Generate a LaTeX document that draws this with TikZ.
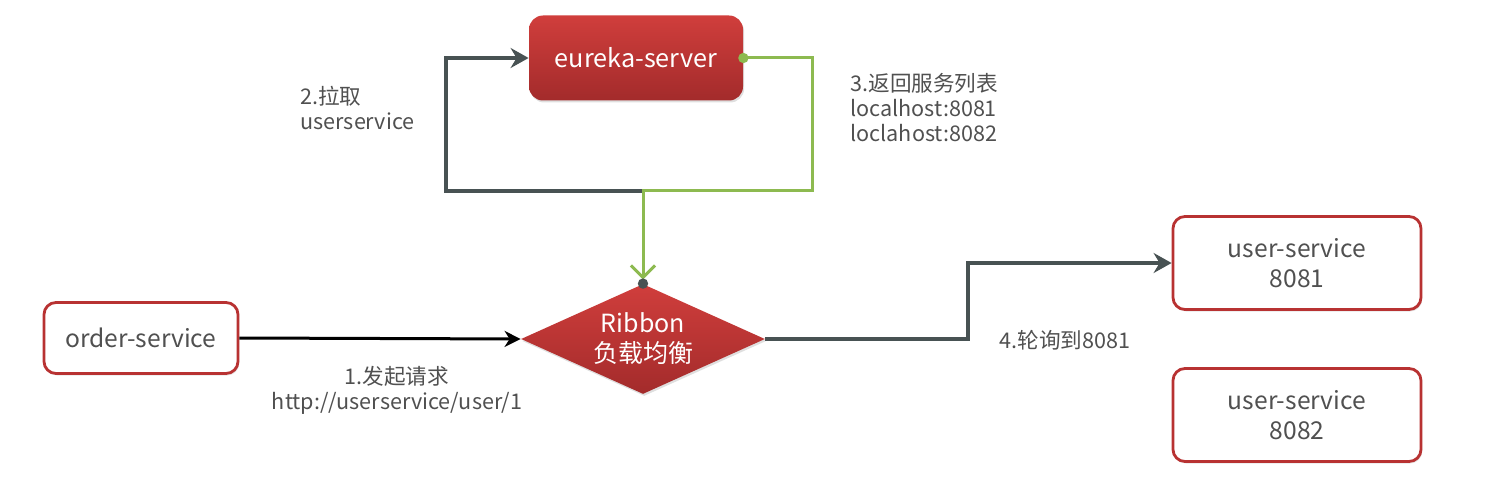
\documentclass[tikz,border=0pt]{standalone}
\usepackage{fontspec}
\setmainfont{Noto Sans CJK SC}
\usetikzlibrary{shapes.geometric,arrows.meta,shadows,calc}
\definecolor{redtop}{HTML}{D03E3C}
\definecolor{redbot}{HTML}{A32B2B}
\definecolor{redborder}{HTML}{B83232}
\definecolor{txtgray}{HTML}{505050}
\definecolor{linegray}{HTML}{485253}
\definecolor{linegreen}{HTML}{8DBA50}
\begin{document}
\begin{tikzpicture}[x=0.5pt,y=-0.5pt,
  redbox/.style={rectangle,rounded corners=7pt,top color=redtop,bottom color=redbot,draw=none,
    text=white,font=\fontsize{12.6}{15}\selectfont,inner sep=0pt,
    drop shadow={opacity=0.25,shadow xshift=0.6pt,shadow yshift=-1pt}},
  whitebox/.style={rectangle,rounded corners=6pt,fill=white,draw=redborder,line width=1.4pt,
    text=txtgray,font=\fontsize{12.3}{15}\selectfont,align=center,inner sep=0pt,
    drop shadow={opacity=0.2,shadow xshift=0.6pt,shadow yshift=-1pt}},
  reddiamond/.style={diamond,aspect=2.2,top color=redtop,bottom color=redbot,draw=none,text=white,
    font=\fontsize{12.5}{15}\selectfont,align=center,inner sep=0pt,
    minimum width=122pt,minimum height=55pt,
    drop shadow={opacity=0.25,shadow xshift=0.6pt,shadow yshift=-1pt}},
  lbl/.style={text=txtgray,font=\fontsize{10.8}{12.5}\selectfont,inner sep=0pt},
  grayline/.style={draw=linegray,line width=1.8pt},
  greenline/.style={draw=linegreen,line width=1.5pt},
  blackline/.style={draw=black,line width=1.5pt}
]
\useasboundingbox (0,0) rectangle (1490,492);

\node[redbox,minimum width=107pt,minimum height=42.5pt] (eureka) at (636,58) {eureka-server};
\node[reddiamond] (ribbon) at (643,339) {Ribbon\\负载均衡};
\node[whitebox,minimum width=97pt,minimum height=35.5pt] (order) at (141,338) {order-service};
\node[whitebox,minimum width=124pt,minimum height=46.5pt] (us1) at (1297,263) {user-service\\8081};
\node[whitebox,minimum width=124pt,minimum height=46.5pt] (us2) at (1297,415) {user-service\\8082};

\coordinate (j) at (643,191);
\coordinate (l) at (446,191);
\coordinate (r) at (812,191);
\coordinate (m) at (968,263);

% gray: pull
\draw[grayline,-{Stealth[length=9pt,width=10pt,inset=3pt]}] (j) -- (l) |- (eureka.west);
% green: return list
\draw[greenline,-{Straight Barb[length=6pt,width=12pt]}] (eureka.east) -| (r) -| ($(ribbon.north)+(0,-4)$);
\fill[linegreen] (eureka.east) circle (2.6pt);
\fill[linegray] (ribbon.north) circle (2.6pt);
% black: request
\draw[blackline,-{Stealth[length=8pt,width=8pt,inset=2.5pt]}] (order.east) -- (ribbon.west);
% gray: round robin
\draw[grayline,-{Stealth[length=9pt,width=10pt,inset=3pt]}] (ribbon.east) -| (m) -- (us1.west);

\node[lbl,align=center] (l1) at (397,390) {1.发起请求\\http://userservice/user/1};
\node[lbl,align=left,anchor=west] (l2) at (300,108) {2.拉取\\userservice};
\node[lbl,align=left,anchor=west] (l3) at (850,108) {3.返回服务列表\\localhost:8081\\loclahost:8082};
\node[lbl,anchor=west] (l4) at (999,340) {4.轮询到8081};
\end{tikzpicture}
\end{document}
